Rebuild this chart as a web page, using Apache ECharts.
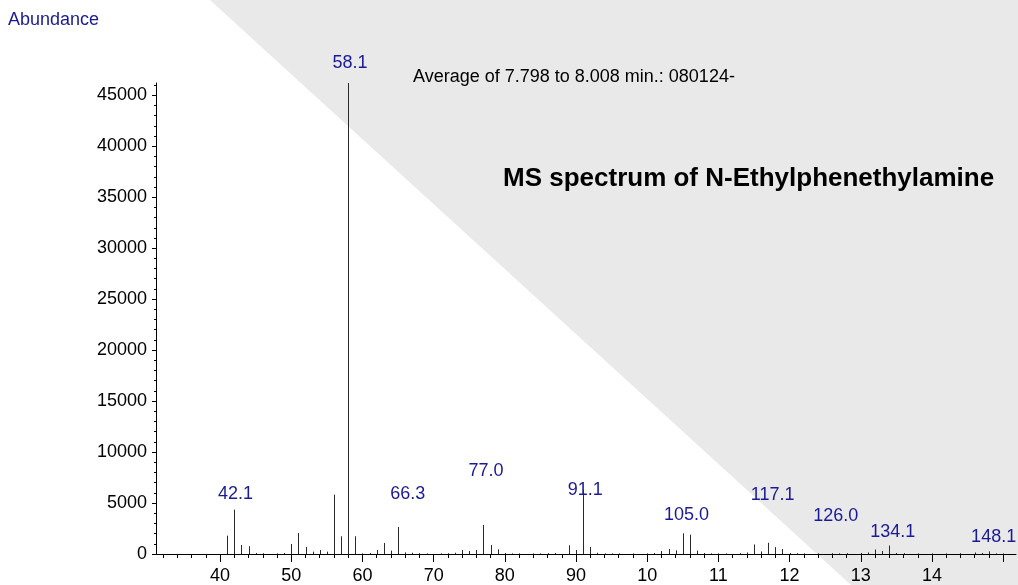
<!DOCTYPE html>
<html><head><meta charset="utf-8">
<script src="https://cdn.jsdelivr.net/npm/echarts@6/dist/echarts.min.js"></script>
<style>
html,body{margin:0;padding:0;background:#fff;}
#wrap{position:relative;width:1018px;height:585px;overflow:hidden;}
#tri{position:absolute;left:0;top:0;width:1018px;height:585px;background:#e9e9e9;clip-path:polygon(210px 0,1018px 0,1018px 585px,851px 585px);}
#chart{position:absolute;left:0;top:0;width:1018px;height:585px;}
</style></head><body>
<div id="wrap"><div id="tri"></div><div id="chart"></div></div>
<script>
// m/z of each peak
const mzValues = [41,42,43,44,45,46,48,49,50,51,52,53,54,55,56,57,58,59,60,61,62,63,64,65,66,67,68,69,
  71,72,73,74,75,76,77,78,79,80,81,82,84,85,86,87,89,90,91,92,93,94,95,96,98,100,101,102,103,104,105,106,107,108,109,
  110,111,113,114,115,116,117,118,119,120,121,122,124,126,127,128,130,131,132,133,134,135,136,138,140,142,144,146,147,148,149,150];
// abundance of each peak
const abundances = [1800,4350,880,760,100,80,60,100,980,2060,690,230,390,230,5820,1740,46200,1740,60,100,390,1080,330,2650,160,120,80,60,
  60,80,120,390,290,390,2850,880,460,100,60,60,60,60,80,100,850,390,6300,690,120,60,60,60,60,60,100,290,490,360,2030,1890,330,100,60,
  60,60,80,150,930,250,1100,670,490,100,80,60,60,80,60,80,100,150,440,300,830,100,80,60,60,60,80,150,100,260,60,60];

// peak annotation texts and where they sit (data coordinates)
const peakLabelTexts = ['42.1','58.1','66.3','77.0','91.1','105.0','117.1','126.0','134.1','148.1'];
const peakLabelMz    = [42.18, 58.25, 66.35, 77.37, 91.31, 105.52, 117.61, 126.48, 134.48, 148.66];
const peakLabelLevel = [5930, 48170, 5930, 8180, 6270, 3820, 5830, 3770, 2156, 1666];

// axis ticks
const xTickValues = [40,50,60,70,80,90,100,110,120,130,140,150];
const xTickLabels = ['40','50','60','70','80','90','10','11','12','13','14',''];
const xMinorTicks = [32,34,36,38,42,44,46,48,52,54,56,58,62,64,66,68,72,74,76,78,82,84,86,88,92,94,96,98,
  102,104,106,108,112,114,116,118,122,124,126,128,132,134,136,138,142,144,146,148];
const yTickValues = [0,5000,10000,15000,20000,25000,30000,35000,40000,45000];
const yMinorTicks = [1000,2000,3000,4000,6000,7000,8000,9000,11000,12000,13000,14000,16000,17000,18000,19000,
  21000,22000,23000,24000,26000,27000,28000,29000,31000,32000,33000,34000,36000,37000,38000,39000,
  41000,42000,43000,44000,46000];

const FONT = "'Liberation Sans', Arial, Helvetica, sans-serif";
const NAVY = '#1a1a94';

const chart = echarts.init(document.getElementById('chart'), null, {renderer:'canvas'});
const xLabelMap = {};
xTickValues.forEach((v,i)=>{ xLabelMap[v] = xTickLabels[i]; });

const option = {
  backgroundColor: 'transparent',
  animation: false,
  grid: {left:156, right:2, top:83, bottom:30.5, containLabel:false},
  xAxis: [{
    type:'value', min:31, max:151.8, position:'bottom',
    axisLine:{show:true, onZero:false, lineStyle:{color:'#000', width:1}},
    axisTick:{show:true, customValues:xTickValues, length:8, lineStyle:{color:'#000'}},
    axisLabel:{show:true, customValues:xTickValues.slice(0,11), margin:13,
      fontFamily:FONT, fontSize:18, color:'#000',
      formatter:v=>xLabelMap[v] !== undefined ? xLabelMap[v] : ''},
    splitLine:{show:false}
  },{
    type:'value', min:31, max:151.8, position:'bottom',
    axisLine:{show:false},
    axisTick:{show:true, customValues:xMinorTicks, length:4, lineStyle:{color:'#000'}},
    axisLabel:{show:false},
    splitLine:{show:false}
  }],
  yAxis: [{
    type:'value', min:0, max:46200, position:'left',
    axisLine:{show:true, onZero:false, lineStyle:{color:'#000', width:1}},
    axisTick:{show:true, customValues:yTickValues, length:4, lineStyle:{color:'#000'}},
    axisLabel:{show:true, customValues:yTickValues, margin:9,
      fontFamily:FONT, fontSize:18, color:'#000', formatter:v=>String(v)},
    splitLine:{show:false}
  },{
    type:'value', min:0, max:46200, position:'left',
    axisLine:{show:false},
    axisTick:{show:true, customValues:yMinorTicks, length:2, lineStyle:{color:'#000'}},
    axisLabel:{show:false},
    splitLine:{show:false}
  }],
  graphic: [
    {type:'text', x:8, y:20, style:{text:'Abundance', font:'18px '+FONT, fill:NAVY, verticalAlign:'middle', align:'left'}},
    {type:'text', x:413, y:77.5, style:{text:'Average of 7.798 to 8.008 min.: 080124-', font:'18px '+FONT, fill:'#000', verticalAlign:'middle', align:'left'}},
    {type:'text', x:503, y:179, style:{text:'MS spectrum of N-Ethylphenethylamine', font:'bold 26px '+FONT, fill:'#000', verticalAlign:'middle', align:'left'}}
  ],
  series: [{
    type:'custom',
    xAxisIndex:0, yAxisIndex:0,
    data: mzValues.map((m,i)=>[m, abundances[i]]),
    encode:{x:0, y:1},
    renderItem:function(params, api){
      const top = api.coord([api.value(0), api.value(1)]);
      const base = api.coord([api.value(0), 0]);
      const x = Math.round(top[0]) + 0.5;
      return {type:'line', shape:{x1:x, y1:base[1], x2:x, y2:top[1]},
        style:{stroke:'#2a2a2a', lineWidth:1}};
    },
    silent:true
  },{
    type:'scatter',
    xAxisIndex:0, yAxisIndex:0,
    clip:false,
    symbolSize:1,
    itemStyle:{color:'transparent', opacity:1},
    data: peakLabelMz.map((m,i)=>[m, peakLabelLevel[i], peakLabelTexts[i]]),
    label:{show:true, position:'inside', formatter:p=>p.data[2],
      fontFamily:FONT, fontSize:18, color:NAVY, opacity:1},
    silent:true
  }]
};
chart.setOption(option);
</script>
</body></html>
